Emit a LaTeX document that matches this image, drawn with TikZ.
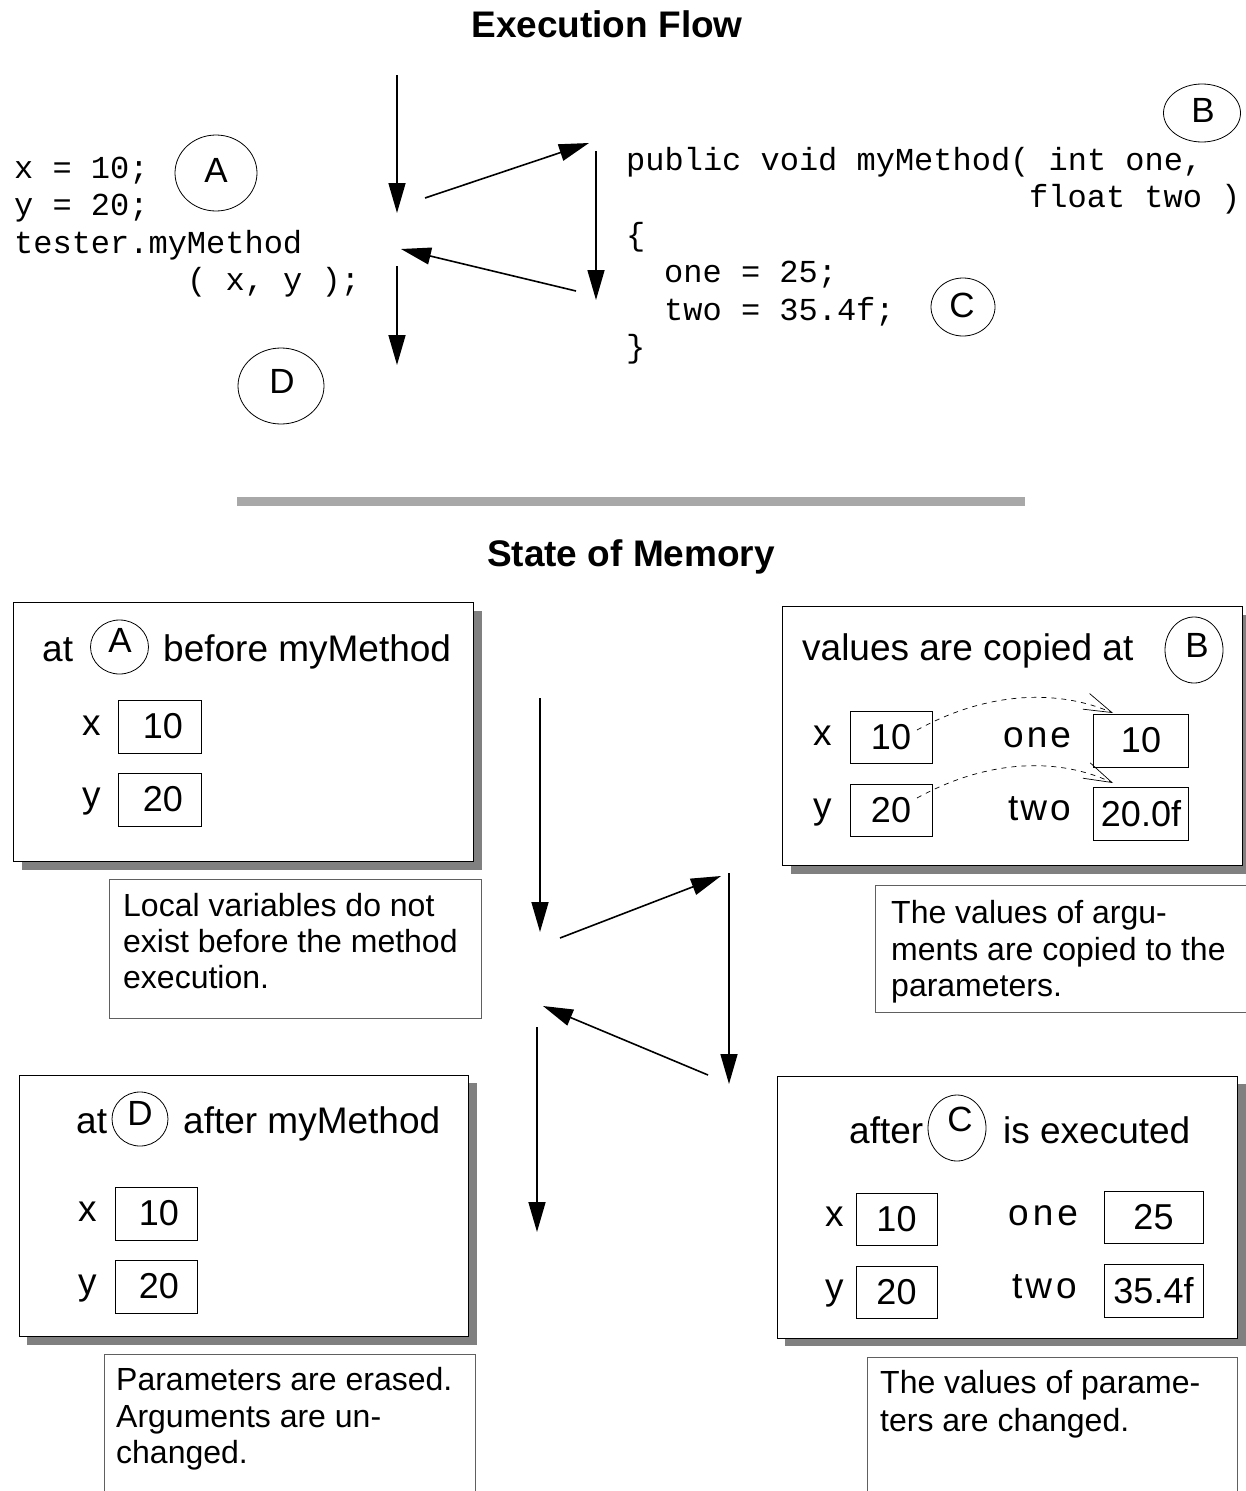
\documentclass[tikz,border=0pt]{standalone}
\usepackage{fontspec}
\setmainfont{Liberation Sans}
\setmonofont{Liberation Mono}
\usetikzlibrary{arrows.meta,shapes.geometric}

\definecolor{shadowgray}{HTML}{808080}
\definecolor{bargray}{HTML}{A8A8A8}
\definecolor{notegray}{HTML}{606060}

\tikzset{
  flow/.style={line width=1.6pt, -{Triangle[length=30pt,width=17pt]}},
  copyarrow/.style={line width=0.7pt, dash pattern=on 5pt off 5pt,
    -{Straight Barb[length=28pt,width=17pt,line width=0.7pt]}},
  txt/.style={inner sep=0pt, anchor=base west},
  code/.style={txt, font=\fontsize{32}{37}\ttfamily},
  head/.style={txt, font=\fontsize{37}{44}\selectfont},
  note/.style={txt, font=\fontsize{32}{37}\selectfont},
  title/.style={inner sep=0pt, anchor=base, font=\fontsize{37}{44}\bfseries},
  ring/.style={draw, ellipse, line width=0.8pt, inner sep=0pt},
  bigletter/.style={inner sep=0pt, font=\fontsize{35}{40}\selectfont},
  smallletter/.style={inner sep=0pt, font=\fontsize{35}{40}\selectfont},
  valbox/.style={draw, line width=0.9pt, inner sep=0pt, fill=white,
    font=\fontsize{36}{40}\selectfont, minimum width=83pt, minimum height=53pt},
  widebox/.style={valbox, minimum width=95pt},
  memframe/.style={draw, line width=0.9pt, fill=white},
  memshadow/.style={fill=shadowgray},
  noteframe/.style={draw=notegray, line width=0.9pt, fill=white},
}

\begin{document}
\begin{tikzpicture}[x=1pt,y=-1pt]
\useasboundingbox[fill=white] (0,0) rectangle (1245,1491);

% ---------------- Execution flow ----------------
\node[title] (t1) at (607,37) {Execution Flow};

% calling code
\node[code] (c1) at (14,178) {x = 10;};
\node[code] (c2) at (14,215) {y = 20;};
\node[code] (c3) at (14,253) {tester.myMethod};
\node[code] (c4) at (187,290) {( x, y );};

% method body
\node[code] (m1) at (626,170) {public void myMethod( int one,};
\node[code] (m2) at (1029,207) {float two )};
\node[code] (m3) at (626,245) {\{};
\node[code] (m4) at (664,282) {one = 25;};
\node[code] (m5) at (664,320) {two = 35.4f;};
\node[code] (m6) at (626,357) {\}};

% markers
\node[ring, minimum width=82pt, minimum height=76pt] (rA) at (216,173) {};
\node[bigletter] (lA) at (216,170) {A};
\node[ring, minimum width=77pt, minimum height=58pt] (rB) at (1202,113) {};
\node[bigletter] (lB) at (1203,110) {B};
\node[ring, minimum width=64pt, minimum height=58pt] (rC) at (963,307) {};
\node[bigletter] (lC) at (962,305) {C};
\node[ring, minimum width=86pt, minimum height=76pt] (rD) at (281,386) {};
\node[bigletter] (lD) at (282,381) {D};

% flow arrows
\coordinate (fa0) at (397,75);   \coordinate (fa1) at (397,213);
\coordinate (fb0) at (425,198);  \coordinate (fb1) at (589,143);
\coordinate (fc0) at (596,151);  \coordinate (fc1) at (596,300);
\coordinate (fd0) at (576,291);  \coordinate (fd1) at (401,249);
\coordinate (fe0) at (397,266);  \coordinate (fe1) at (397,365);
\draw[flow] (fa0) -- (fa1);
\draw[flow] (fb0) -- (fb1);
\draw[flow] (fc0) -- (fc1);
\draw[flow] (fd0) -- (fd1);
\draw[flow] (fe0) -- (fe1);

% separator
\fill[bargray] (237,497) rectangle (1025,506);

% ---------------- State of memory ----------------
\node[title] (t2) at (631,566) {State of Memory};

% --- state at A ---
\fill[memshadow] (22,611) rectangle (482,870);
\draw[memframe] (13,602) rectangle (473,861);
\node[head] (hA1) at (42,661) {at};
\node[ring, minimum width=58pt, minimum height=54pt] (sA) at (119.5,647) {};
\node[smallletter] (sAl) at (120,640) {A};
\node[head] (hA2) at (163,661) {before myMethod};
\node[head] (vAx) at (82,735) {x};
\node[valbox] (bAx) at (160,726.5) {\,10};
\node[head] (vAy) at (82,807) {y};
\node[valbox] (bAy) at (160,799.5) {\,20};

\draw[noteframe] (109,879) rectangle (481,1018);
\node[note] (nA1) at (123,916) {Local variables do not};
\node[note] (nA2) at (123,952) {exist before the method};
\node[note] (nA3) at (123,988) {execution.};

% --- state at B ---
\fill[memshadow] (791,615) rectangle (1251,874);
\draw[memframe] (782,606) rectangle (1242,865);
\node[head] (hB1) at (802,660) {values are copied at};
\node[ring, minimum width=58pt, minimum height=66pt] (sB) at (1194,650) {};
\node[smallletter] (sBl) at (1197,645) {B};
\node[head] (vBx) at (813,745) {x};
\node[valbox, minimum width=82pt, minimum height=52pt] (bBx) at (891,737) {10};
\node[head] (vBy) at (813,818) {y};
\node[valbox, minimum width=82pt, minimum height=52pt] (bBy) at (891,810.5) {20};
\node[head] (vBone) at (1003,747) {o\kern3pt n\kern3pt e};
\node[widebox] (bBone) at (1141,740.5) {10\hspace{16pt}};
\node[head] (vBtwo) at (1008,820) {t\kern2pt w\kern3pt o};
\node[widebox] (bBtwo) at (1141,813.5) {20.0f};

\coordinate (dx0) at (917,730);
\coordinate (dx1) at (1113,713);
\coordinate (dy0) at (917,798);
\coordinate (dy1) at (1113,783);
\draw[copyarrow] (dx0) .. controls (990,690) and (1060,690) .. (dx1);
\draw[copyarrow] (dy0) .. controls (990,758) and (1060,758) .. (dy1);

\draw[noteframe] (875,885) rectangle (1252,1012);
\node[note] (nB1) at (891,923) {The values of argu-};
\node[note] (nB2) at (891,960) {ments are copied to the};
\node[note] (nB3) at (891,996) {parameters.};

% --- state at D ---
\fill[memshadow] (27,1083) rectangle (477,1345);
\draw[memframe] (19,1075) rectangle (468,1336);
\node[head] (hD1) at (76,1133) {at};
\node[ring, minimum width=56pt, minimum height=54pt] (sD) at (140,1119) {};
\node[smallletter] (sDl) at (140,1113) {D};
\node[head] (hD2) at (183,1133) {after myMethod};
\node[head] (vDx) at (78,1221) {x};
\node[valbox, minimum width=82pt] (bDx) at (156,1213.5) {\,10};
\node[head] (vDy) at (78,1294) {y};
\node[valbox, minimum width=82pt] (bDy) at (156,1286.5) {\,20};

\draw[noteframe] (104,1500) -- (104,1354) -- (475,1354) -- (475,1500);
\node[note] (nD1) at (116,1390) {Parameters are erased.};
\node[note] (nD2) at (116,1427) {Arguments are un-};
\node[note] (nD3) at (116,1463) {changed.};

% --- state at C ---
\fill[memshadow] (785,1084) rectangle (1246,1346);
\draw[memframe] (777,1076) rectangle (1237,1338);
\node[head] (hC1) at (849,1143) {after};
\node[ring, minimum width=58pt, minimum height=66pt] (sC) at (957,1128) {};
\node[smallletter] (sCl) at (960,1119) {C};
\node[head] (hC2) at (1003,1143) {is executed};
\node[head] (vCx) at (825,1226) {x};
\node[valbox, minimum width=81pt, minimum height=52pt] (bCx) at (896.5,1219) {10};
\node[head] (vCy) at (825,1299) {y};
\node[valbox, minimum width=81pt, minimum height=52pt] (bCy) at (896.5,1292) {20};
\node[head] (vCone) at (1008,1225) {o\kern4pt n\kern4pt e};
\node[widebox, minimum width=99pt, minimum height=52pt] (bCone) at (1153.5,1217) {25\hspace{20pt}};
\node[head] (vCtwo) at (1012,1298) {t\kern3pt w\kern4pt o};
\node[widebox, minimum width=99pt, minimum height=53pt] (bCtwo) at (1153.5,1290.5) {35.4f};

\draw[noteframe] (867,1500) -- (867,1357) -- (1237,1357) -- (1237,1500);
\node[note] (nC1) at (880,1393) {The values of parame-};
\node[note] (nC2) at (880,1431) {ters are changed.};

% memory flow arrows
\coordinate (ga0) at (540,698);   \coordinate (ga1) at (540,932);
\coordinate (gb0) at (560,938);   \coordinate (gb1) at (721,876);
\coordinate (gc0) at (729,873);   \coordinate (gc1) at (729,1084);
\coordinate (gd0) at (708,1075);  \coordinate (gd1) at (543,1006);
\coordinate (ge0) at (537,1027);  \coordinate (ge1) at (537,1232);
\draw[flow] (ga0) -- (ga1);
\draw[flow] (gb0) -- (gb1);
\draw[flow] (gc0) -- (gc1);
\draw[flow] (gd0) -- (gd1);
\draw[flow] (ge0) -- (ge1);
\end{tikzpicture}
\end{document}
